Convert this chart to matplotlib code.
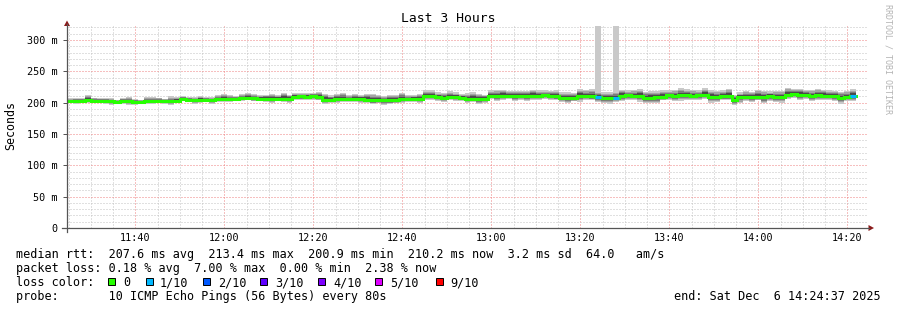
import matplotlib
matplotlib.use("Agg")
import matplotlib.pyplot as plt
from matplotlib.patches import Polygon, Rectangle
import numpy as np

# ---------------- data ----------------
start_time = "11:24:37"
end_time = "14:24:37"
step_seconds = 80

median_ms = [202, 202, 203, 205, 203, 203, 202, 202, 201.5, 202, 202, 201, 201,
             202.5, 202, 203, 202.5, 202, 203, 205.5, 205, 203.5, 204, 203.5, 203.5,
             205.5, 206, 205.5, 206, 207.5, 208, 207, 206,
             206, 205.5, 206, 206.5, 206, 209.5, 210, 209, 210, 209.5, 205, 204.5,
             206, 206, 205.5, 206.5, 206, 205, 203.5, 204, 203.5, 203.5, 204,
             206, 205.5, 206, 206.5, 210.5, 210, 208.5, 208, 209, 208.5, 208,
             206, 206.5, 205.5, 206, 210.5, 210, 211, 210.5, 210, 211, 211,
             211, 210.5, 211.5, 211, 210.5,
             207.5, 207, 208, 210.5, 211, 210, 209.5, 207, 207.5, 207,
             211, 211.5, 211, 210.5, 207.5, 207, 209, 209.5,
             211.5, 211, 212, 211.5, 211, 211.5, 213, 209, 209.5, 210, 210.5, 204,
             208.5, 209, 208.5, 209.5, 209, 210, 209.5, 209,
             213, 213.4, 212.5, 213, 211, 211.5, 211, 210.5, 211, 207.5, 209.5, 210.2]

# spread of the smoke above / below the median (ms)
smoke_up = [5, 6, 4, 8, 5, 4, 6, 5, 3, 6, 7, 5, 4, 6, 7, 5, 4, 8, 6, 5,
            4, 5, 7, 6, 5, 7, 8, 6, 5, 6, 8, 7, 6,
            7, 8, 6, 9, 7, 6, 5, 7, 6, 8, 9, 7, 8, 10, 7, 8, 6, 9, 11, 8,
            7, 9, 8, 10, 7, 6, 8, 9, 10, 8, 7, 9, 8, 6, 9, 10, 8, 7, 9, 11,
            10, 8, 9, 7, 8, 10, 9, 8, 7, 9,
            9, 10, 8, 11, 9, 12, 8, 10, 9, 11, 10, 8, 9, 11, 10, 12, 9, 10, 8, 9,
            11, 10, 9, 8, 10, 11, 9, 10, 12, 9, 8, 10, 9, 11, 10, 8, 9, 10, 11, 9,
            10, 8, 9, 11, 10, 9, 8, 10, 9, 12]
smoke_down = [3, 4, 3, 5, 4, 3, 4, 5, 3, 4, 5, 4, 3, 5, 4, 3, 4, 5, 4, 3,
              4, 5, 4, 3, 5, 4, 5, 4, 3, 5, 4, 5, 4,
              5, 6, 4, 5, 7, 5, 6, 4, 5, 6, 7, 5, 6, 5, 4, 6, 7, 5, 6, 5,
              7, 6, 5, 6, 4, 5, 7, 6, 5, 6, 7, 5, 6, 5, 7, 6, 8, 6, 5, 7,
              6, 5, 7, 6, 8, 7, 6, 5, 6, 7,
              7, 8, 6, 9, 7, 6, 8, 7, 9, 6, 8, 7, 6, 9, 8, 7, 10, 6, 7, 8,
              9, 7, 6, 8, 7, 9, 8, 6, 7, 8, 9, 7, 8, 6, 10, 7, 8, 9, 7, 6,
              8, 7, 9, 8, 7, 6, 8, 9, 7, 8]

# samples whose slowest ping was far above the rest (ms)
outlier_max = {89: 340, 92: 340}
# samples with 1/10 packet loss
loss_one_of_ten = [89, 92, 132]

x_tick_labels = ["11:40", "12:00", "12:20", "12:40", "13:00", "13:20", "13:40", "14:00", "14:20"]
y_tick_values = [0, 50, 100, 150, 200, 250, 300]
y_tick_labels = ["0", "50 m", "100 m", "150 m", "200 m", "250 m", "300 m"]

loss_labels = ["0", "1/10", "2/10", "3/10", "4/10", "5/10", "9/10"]
loss_colors = ["#26ff00", "#00b8ff", "#0059ff", "#5e00ff", "#7e00ff", "#dd00ff", "#ff0000"]

legend_median = "median rtt:  207.6 ms avg  213.4 ms max  200.9 ms min  210.2 ms now  3.2 ms sd  64.0   am/s"
legend_loss = "packet loss: 0.18 % avg  7.00 % max  0.00 % min  2.38 % now"
legend_probe = "probe:       10 ICMP Echo Pings (56 Bytes) every 80s"
end_label = "end: Sat Dec  6 14:24:37 2025"
title = "Last 3 Hours"

# ---------------- helpers ----------------
W, H = 897, 310
MONO = "DejaVu Sans Mono"


def hms(s):
    parts = [int(p) for p in s.split(":")]
    while len(parts) < 3:
        parts.append(0)
    return parts[0] * 3600 + parts[1] * 60 + parts[2]


def fx(x):
    return x / W


def fy(y):
    return 1 - y / H


fig = plt.figure(figsize=(W / 100, H / 100), dpi=100)
fig.patch.set_facecolor("white")

ax_left, ax_right, ax_bottom, ax_top = 67, 868, 228, 26
ax = fig.add_axes([fx(ax_left), fy(ax_bottom), (ax_right - ax_left) / W, (ax_bottom - ax_top) / H])
ax.set_facecolor("white")

t0 = hms(start_time)
t1 = hms(end_time)
n = len(median_ms)
med = np.array(median_ms, dtype=float)
up = np.array(smoke_up, dtype=float)
dn = np.array(smoke_down, dtype=float)
edges = t0 + step_seconds * np.arange(n + 1)

hi_outer = med + up
for k, v in outlier_max.items():
    hi_outer[k] = v


def ext(a):
    return np.append(a, a[-1])


# smoke bands, outer (light) to inner (dark)
bands = [(1.0, "#c9c9c9"), (0.76, "#a4a4a4"), (0.56, "#7c7c7c"), (0.38, "#4a4a4a")]
for frac, col in bands:
    if frac == 1.0:
        top = hi_outer
    else:
        top = med + up * frac
    bot = med - dn * frac
    ax.fill_between(edges, ext(bot), ext(top), step="post", color=col, linewidth=0, zorder=2)

# median line
ax.step(edges, ext(med), where="post", color=loss_colors[0], lw=2.2, zorder=4,
        solid_joinstyle="miter")
for k in loss_one_of_ten:
    ax.plot([edges[k], edges[k + 1]], [med[k], med[k]], color=loss_colors[1], lw=2.2,
            solid_capstyle="butt", zorder=5)

# axes limits & grid
ax.set_xlim(t0, t1)
ax.set_ylim(0, (ax_bottom - ax_top) / (188 / 300))
xt = [hms(l) for l in x_tick_labels]
ax.set_xticks(xt)
ax.set_xticklabels(x_tick_labels)
minor_x = np.arange(int(np.ceil(t0 / 300.0)) * 300, t1, 300)
ax.set_xticks(minor_x, minor=True)
ax.set_yticks(y_tick_values)
ax.set_yticklabels(y_tick_labels)
ax.set_yticks(np.arange(0, 330, 10), minor=True)

ax.grid(which="minor", color="#c2c2c2", lw=0.72, linestyle=(0, (1, 2)), zorder=0)
ax.grid(which="major", color="#ee8080", lw=0.72, linestyle=(0, (1, 2)), zorder=0)
ax.set_axisbelow(True)

for s in ax.spines.values():
    s.set_visible(False)

ax.tick_params(axis="x", which="both", length=0, pad=3.6, labelsize=7.3, labelcolor="black")
ax.tick_params(axis="y", which="major", length=3, direction="out", color="#555555", width=0.72,
               pad=3.5, labelsize=7.3, labelcolor="black")
ax.tick_params(axis="y", which="minor", length=0)
for lab in ax.get_xticklabels() + ax.get_yticklabels():
    lab.set_family(MONO)

# axis lines with arrows
axis_col = "#555555"
fig.add_artist(plt.Line2D([fx(62), fx(869)], [fy(228), fy(228)], color=axis_col, lw=0.9,
                          transform=fig.transFigure))
fig.add_artist(plt.Line2D([fx(67), fx(67)], [fy(232), fy(24)], color=axis_col, lw=0.9,
                          transform=fig.transFigure))
arrow_col = "#8b1a1a"
fig.add_artist(Polygon([(fx(67), fy(20.5)), (fx(64), fy(26)), (fx(70), fy(26))],
                       closed=True, color=arrow_col, transform=fig.transFigure, lw=0))
fig.add_artist(Polygon([(fx(874), fy(228)), (fx(868.5), fy(225)), (fx(868.5), fy(231))],
                       closed=True, color=arrow_col, transform=fig.transFigure, lw=0))

# titles
fig.text(fx(448), fy(19), title, ha="center", va="center", fontsize=9.4, family=MONO)
fig.text(fx(11), fy(126), "Seconds", ha="center", va="center", rotation=90, fontsize=8.4,
         family=MONO)
fig.text(fx(888), fy(4), "RRDTOOL / TOBI OETIKER", ha="center", va="top", rotation=270,
         fontsize=6.0, family=MONO, color="#b4b4b4")

# legend
fs = 8.5
fig.text(fx(16), fy(258), legend_median, ha="left", va="baseline", fontsize=fs, family=MONO)
fig.text(fx(16), fy(272), legend_loss, ha="left", va="baseline", fontsize=fs, family=MONO)
fig.text(fx(16), fy(286), "loss color:", ha="left", va="baseline", fontsize=fs, family=MONO)
fig.text(fx(16), fy(300), legend_probe, ha="left", va="baseline", fontsize=fs, family=MONO)
fig.text(fx(881), fy(300), end_label, ha="right", va="baseline", fontsize=fs, family=MONO)

box_x = [108, 146, 203, 260, 318, 375, 436]
text_x = [123, 160, 218, 275, 333, 390, 450]
for bx, tx, lab, col in zip(box_x, text_x, loss_labels, loss_colors):
    fig.add_artist(Rectangle((fx(bx), fy(285)), 7 / W, 7 / H, transform=fig.transFigure,
                             facecolor=col, edgecolor="black", lw=0.7))
    fig.text(fx(tx), fy(286), lab, ha="left", va="baseline", fontsize=fs, family=MONO)

fig.savefig("out.png", dpi=100, facecolor="white")
